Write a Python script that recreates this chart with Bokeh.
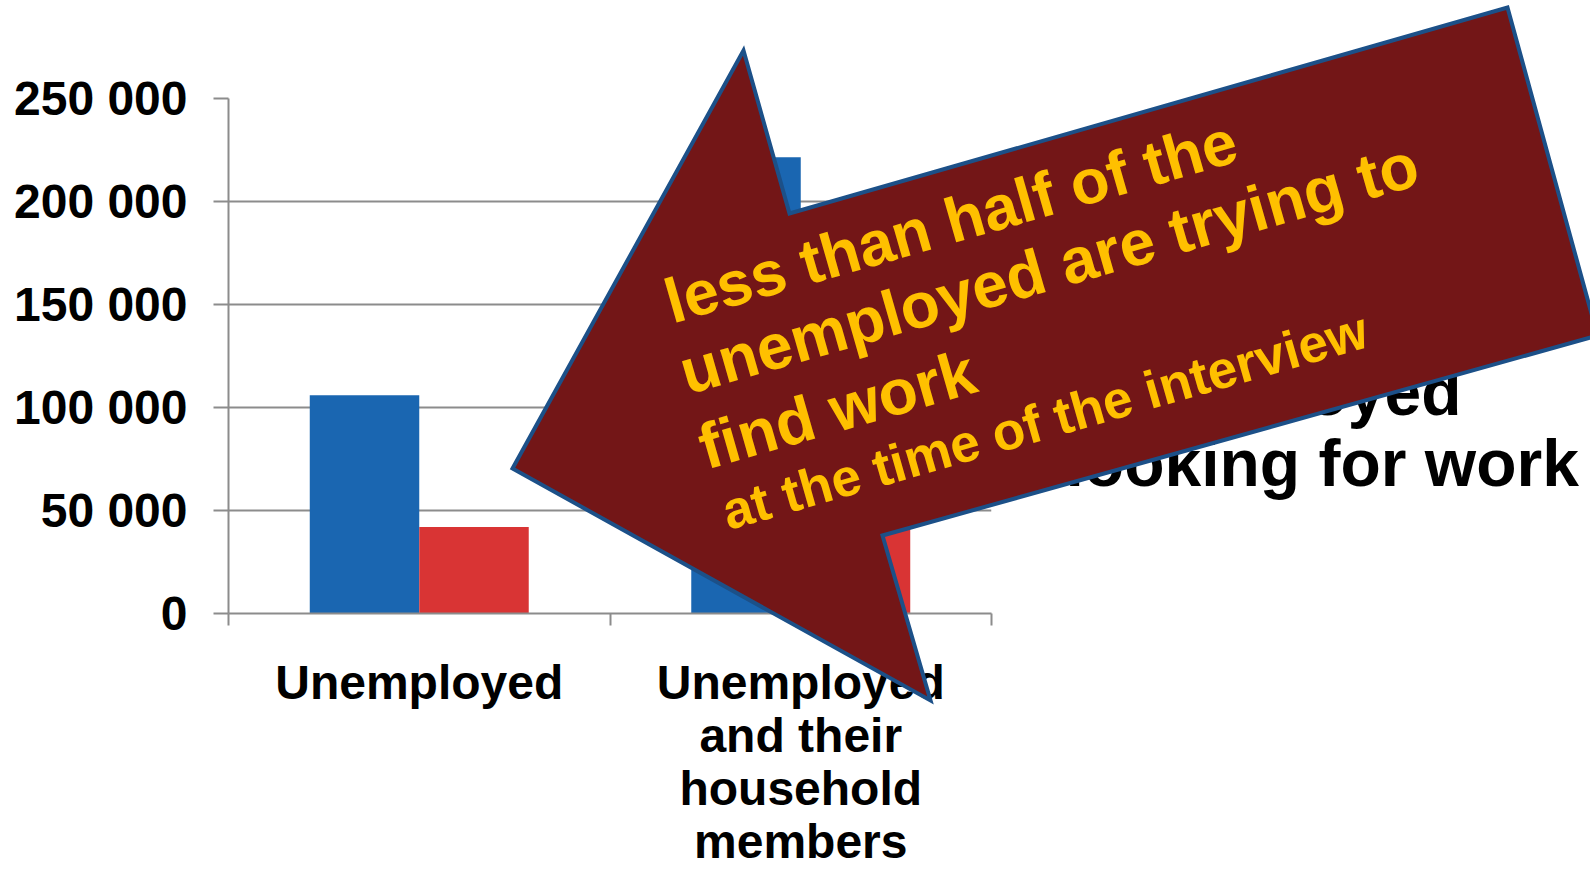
import numpy as np
from bokeh.plotting import figure
from bokeh.models import Range1d, FixedTicker
from bokeh.core.properties import value
from bokeh.embed import file_html
from bokeh.resources import INLINE

# ---------------- data ----------------
categories = ["Unemployed", "Unemployed\nand their\nhousehold\nmembers"]
series_names = ["Unemployed", "Unemployed\nlooking for work"]
unemployed = [106000, 221500]
looking_for_work = [42000, 90000]
y_ticks = [0, 50000, 100000, 150000, 200000, 250000]
callout_lines = ["less than half of the", "unemployed are trying to", "find work",
                 "at the time of the interview"]

# ---------------- style / layout ----------------
W, H = 1590, 870
BLUE = "#1A66B1"
RED = "#D93434"
GRID = "#8C8C8C"
FONT = "Liberation Sans"
ARROW_FILL = "#731617"
ARROW_LINE = "#1C5088"
YELLOW = "#FFC000"
TXT_DY = -20  # baseline correction for text glyphs

p = figure(width=W, height=H, output_backend="svg", toolbar_location=None,
           x_range=Range1d(0, len(categories)), y_range=Range1d(0, 250000),
           min_border_left=228, min_border_right=W - 228 - 763, min_border_top=98,
           min_border_bottom=H - 614)
p.outline_line_color = None
p.background_fill_color = "white"

n = len(categories)
centers = np.arange(n) + 0.5
bw = 0.287
p.vbar(x=centers - bw / 2, top=unemployed, width=bw, color=BLUE, line_color=None)
p.vbar(x=centers + bw / 2, top=looking_for_work, width=bw, color=RED, line_color=None)

# x axis: labels at category centres, tick marks at category edges
p.xaxis.ticker = FixedTicker(ticks=list(centers), minor_ticks=list(range(n + 1)))
p.xaxis.major_label_overrides = {float(c): lab for c, lab in zip(centers, categories)}
p.xaxis.major_tick_line_color = None
p.xaxis.major_tick_out = 0
p.xaxis.major_tick_in = 0
p.xaxis.minor_tick_line_color = GRID
p.xaxis.minor_tick_line_width = 2
p.xaxis.minor_tick_out = 12
p.xaxis.minor_tick_in = 0
p.xaxis.axis_line_color = GRID
p.xaxis.axis_line_width = 2
p.xaxis.major_label_standoff = 30
p.xaxis.major_label_text_font = FONT
p.xaxis.major_label_text_font_style = "bold"
p.xaxis.major_label_text_font_size = "48px"
p.xaxis.major_label_text_line_height = 1.0
p.xaxis.major_label_text_color = "black"

# y axis
p.yaxis.ticker = FixedTicker(ticks=y_ticks, minor_ticks=[])
p.yaxis.major_label_overrides = {t: f"{t:,}".replace(",", " ") for t in y_ticks}
p.yaxis.major_tick_line_color = GRID
p.yaxis.major_tick_line_width = 2
p.yaxis.major_tick_out = 15
p.yaxis.major_tick_in = 0
p.yaxis.axis_line_color = GRID
p.yaxis.axis_line_width = 2
p.yaxis.major_label_standoff = 26
p.yaxis.major_label_text_font = FONT
p.yaxis.major_label_text_font_style = "bold"
p.yaxis.major_label_text_font_size = "48px"
p.yaxis.major_label_text_color = "black"

p.xgrid.visible = False
p.ygrid.grid_line_color = GRID
p.ygrid.grid_line_width = 2

# ---------------- overlay: legend + arrow call-out (pixel coordinates) ----------------
ov = figure(width=W, height=H, output_backend="svg", toolbar_location=None,
            x_range=Range1d(0, W), y_range=Range1d(H, 0),
            x_axis_type=None, y_axis_type=None,
            min_border=0, min_border_left=0, min_border_right=0,
            min_border_top=0, min_border_bottom=0)
ov.grid.visible = False
ov.outline_line_color = None
ov.background_fill_alpha = 0
ov.border_fill_alpha = 0
ov.styles = {"position": "absolute", "left": "0px", "top": "0px"}

# legend (mostly hidden behind the arrow)
leg_x = 1065
leg_entries = [(BLUE, series_names[0], 300), (RED, series_names[1], 411)]
for col, name, base in leg_entries:
    ov.quad(left=[leg_x - 62], right=[leg_x - 22], top=[base - 45], bottom=[base - 5],
            color=col, line_color=None)
    lines = name.split("\n")
    ov.text(x=[leg_x] * len(lines), y=[base + TXT_DY + 71 * i for i in range(len(lines))],
            text=lines, text_font=value(FONT), text_font_style="bold",
            text_font_size=value("66px"), text_color="black",
            text_align="left", text_baseline="alphabetic")

# arrow
arrow_px = [512, 743, 789, 1507, 1597, 882, 930]
arrow_py = [468, 50, 213, 7, 335, 535, 700]
ov.patch(arrow_px, arrow_py, fill_color=ARROW_FILL, fill_alpha=1,
         line_color=ARROW_LINE, line_width=4, line_join="miter")

ang = np.deg2rad(16)
starts = [(666, 322), (681, 393), (700, 468), (723, 532)]
sizes = ["63px", "64px", "64px", "53px"]
for (x0, y0), txt, fs in zip(starts, callout_lines, sizes):
    ov.text(x=[x0], y=[y0 + TXT_DY], text=[txt], angle=ang, text_font=value(FONT),
            text_font_style="bold", text_font_size=value(fs), text_color=YELLOW,
            text_align="left", text_baseline="alphabetic")

open("out.html", "w").write(file_html([p, ov], INLINE))
